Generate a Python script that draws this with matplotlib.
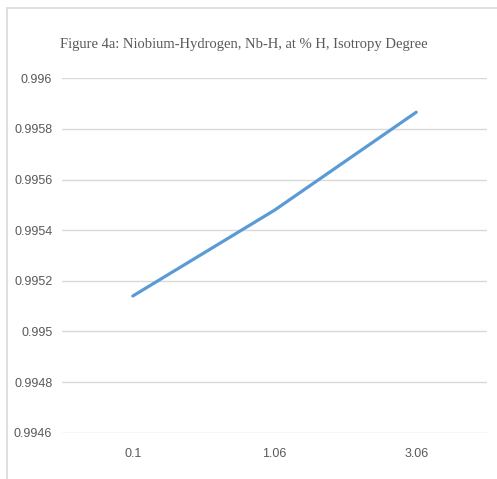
import matplotlib
matplotlib.use("Agg")
import matplotlib.pyplot as plt
from matplotlib.patches import Rectangle

# data
categories = ["0.1", "1.06", "3.06"]
isotropy = [0.99514, 0.995479, 0.995866]
y_ticks = [0.9946, 0.9948, 0.995, 0.9952, 0.9954, 0.9956, 0.9958, 0.996]
y_labels = ["0.9946", "0.9948", "0.995", "0.9952", "0.9954", "0.9956", "0.9958", "0.996"]

fig = plt.figure(figsize=(4.97, 4.79), dpi=100)
ax = fig.add_axes([0.1247, 0.0967, 0.8553, 0.7398])

# chart area border (runs off the right and bottom edges)
fig.patches.append(Rectangle((7 / 497, -0.05), 1.2, 1 - 8 / 479 + 0.05,
                             transform=fig.transFigure, fill=False,
                             edgecolor="#d9d9d9", linewidth=1.2))

x = list(range(len(categories)))
ax.plot(x, isotropy, color="#5b9bd5", linewidth=2.3, solid_capstyle="round")

ax.set_xlim(-0.5, len(categories) - 0.5)
ax.set_ylim(0.9946, 0.996)
ax.set_yticks(y_ticks)
ax.set_yticklabels(y_labels)
ax.set_xticks(x)
ax.set_xticklabels(categories)
ax.grid(axis="y", color="#d9d9d9", linewidth=1)
ax.set_axisbelow(True)
for s in ax.spines.values():
    s.set_visible(False)
ax.tick_params(length=0, colors="#595959", labelsize=9, pad=7)
ax.tick_params(axis="x", pad=11)
for lbl in ax.get_xticklabels() + ax.get_yticklabels():
    lbl.set_family(["Liberation Sans", "DejaVu Sans"])

fig.text(0.49, 0.907, "Figure 4a: Niobium-Hydrogen, Nb-H, at % H, Isotropy Degree",
         ha="center", va="center", fontsize=10.5, color="#595959",
         family=["Liberation Serif", "DejaVu Serif"])

fig.savefig("out.png", dpi=100)
